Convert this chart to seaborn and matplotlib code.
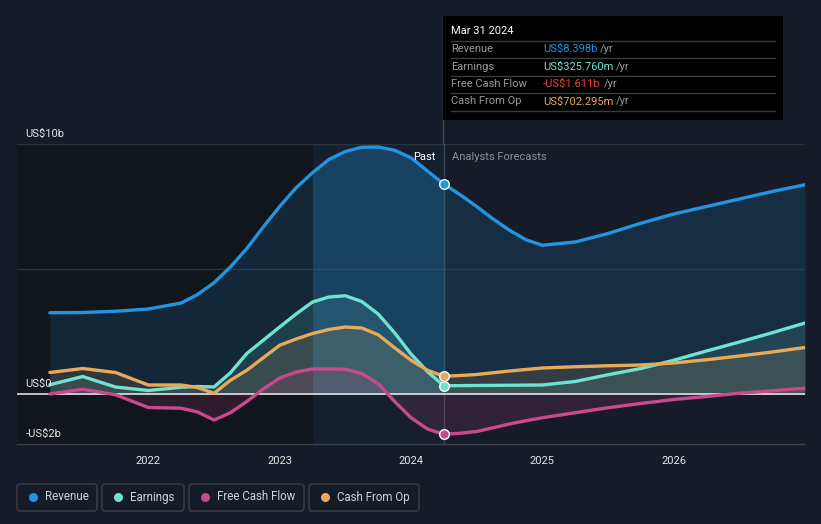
import numpy as np
import pandas as pd
import matplotlib
matplotlib.use("Agg")
import matplotlib.pyplot as plt
import seaborn as sns
from matplotlib.patches import FancyBboxPatch, Rectangle
from matplotlib.transforms import IdentityTransform
from matplotlib.lines import Line2D

# ---------------- data (US$ billions) ----------------
dates = [2021.25, 2021.5, 2021.75, 2022.0, 2022.25, 2022.375, 2022.5, 2022.625,
         2022.75, 2022.875, 2023.0, 2023.125, 2023.25, 2023.375, 2023.5, 2023.625,
         2023.75, 2023.875, 2024.0, 2024.125, 2024.25, 2024.375, 2024.5, 2024.625,
         2024.75, 2024.875, 2025.0, 2025.25, 2025.5, 2025.75, 2026.0, 2026.25,
         2026.5, 2026.75, 2027.0]
revenue = [3.25, 3.26, 3.31, 3.40, 3.64, 3.98, 4.45, 5.08,
           5.82, 6.68, 7.50, 8.25, 8.85, 9.38, 9.70, 9.87,
           9.88, 9.75, 9.45, 8.92, 8.40, 7.97, 7.50, 7.00,
           6.55, 6.17, 5.95, 6.08, 6.42, 6.83, 7.20, 7.50,
           7.80, 8.10, 8.37]
earnings = [0.37, 0.70, 0.28, 0.14, 0.27, 0.30, 0.28, 0.85,
            1.62, 2.15, 2.68, 3.20, 3.68, 3.88, 3.93, 3.70,
            3.20, 2.45, 1.60, 0.90, 0.33, 0.335, 0.34, 0.345,
            0.35, 0.355, 0.36, 0.50, 0.77, 1.02, 1.35, 1.72,
            2.08, 2.45, 2.84]
fcf = [0.00, 0.19, -0.03, -0.54, -0.57, -0.72, -1.04, -0.75,
       -0.30, 0.20, 0.64, 0.88, 1.00, 1.00, 0.99, 0.82,
       0.42, -0.30, -0.95, -1.40, -1.61, -1.57, -1.50, -1.35,
       -1.20, -1.07, -0.95, -0.75, -0.55, -0.38, -0.22, -0.10,
       0.03, 0.13, 0.23]
cfo = [0.86, 1.02, 0.86, 0.36, 0.36, 0.26, 0.03, 0.55,
       0.95, 1.45, 1.95, 2.20, 2.42, 2.58, 2.68, 2.64,
       2.37, 1.85, 1.35, 0.95, 0.71, 0.74, 0.78, 0.85,
       0.92, 0.98, 1.04, 1.09, 1.13, 1.16, 1.24, 1.37,
       1.52, 1.68, 1.86]
series_names = ["Revenue", "Earnings", "Free Cash Flow", "Cash From Op"]
year_ticks = [2022, 2023, 2024, 2025, 2026]
now_date = 2024.25
hl_start = 2023.25
tooltip_title = "Mar 31 2024"
tooltip_values = ["US$8.398b", "US$325.760m", "-US$1.611b", "US$702.295m"]

# ---------------- style ----------------
BG = "#161c27"
PAST_BG = "#11151c"
C_REV = "#2394df"
C_EARN = "#6ee3cf"
C_FCF = "#c94a8c"
C_CFO = "#e8a95a"
colors = [C_REV, C_EARN, C_FCF, C_CFO]

sns.set_style("dark")
plt.rcParams["font.family"] = ["Roboto", "DejaVu Sans"]

W, H = 821, 524
fig = plt.figure(figsize=(W / 100, H / 100), dpi=100, facecolor=BG)
# axes: x 17..805 px, y 144..444 px (from top)
ax = fig.add_axes([17 / W, 1 - 444 / H, (805 - 17) / W, (444 - 144) / H])
ax.set_facecolor(BG)
ax.set_xlim(2021.0, 2027.0)
ax.set_ylim(-2, 10)

df = pd.DataFrame({"date": dates, "Revenue": revenue, "Earnings": earnings,
                   "Free Cash Flow": fcf, "Cash From Op": cfo})
long = df.melt(id_vars="date", var_name="series", value_name="value")

# background regions
ax.axvspan(2021.0, hl_start, color=PAST_BG, zorder=0, lw=0)
ax.axvspan(hl_start, now_date, color="#16202d", zorder=0, lw=0)

# grid
for yv in [5, 10]:
    ax.axhline(yv, color="#2c323c", lw=1, zorder=1)

# fills
d = np.array(dates)
ax.fill_between(d, revenue, 0, color=C_REV, alpha=0.15, lw=0, zorder=2)
mask = (d >= hl_start) & (d <= now_date)
ax.fill_between(d, revenue, 0, where=mask, color=C_REV, alpha=0.17, lw=0, zorder=2)
ax.fill_between(d, earnings, 0, color=C_EARN, alpha=0.13, lw=0, zorder=2)
ax.fill_between(d, cfo, 0, color=C_CFO, alpha=0.13, lw=0, zorder=2)
ax.fill_between(d, fcf, 0, color=C_FCF, alpha=0.15, lw=0, zorder=2)

sns.lineplot(data=long, x="date", y="value", hue="series", hue_order=series_names,
             palette=colors, linewidth=2.4, legend=False, ax=ax, zorder=4,
             estimator=None, sort=True)
for l in ax.lines:
    l.set_solid_joinstyle("round")
    l.set_solid_capstyle("round")

ax.axhline(0, color="#f0f0f0", lw=1.1, zorder=3)

# current markers
i_now = dates.index(now_date)
for vals, c in zip([revenue, earnings, fcf, cfo], colors):
    ax.scatter([now_date], [vals[i_now]], s=48, color=c, edgecolor="white",
               linewidth=1.0, zorder=6)

# vertical now line
ax.axvline(now_date, color="#3a4558", lw=1, zorder=1)
fig.add_artist(Line2D([443 / W, 443 / W], [1 - 144 / H, 1 - 16 / H],
                      color="#3a4558", lw=1, transform=fig.transFigure))

# axes styling
for s in ["top", "right", "left"]:
    ax.spines[s].set_visible(False)
ax.spines["bottom"].set_color("#3b414b")
ax.spines["bottom"].set_linewidth(1)
ax.set_yticks([])
ax.set_xticks(year_ticks)
ax.set_xticklabels([str(y) for y in year_ticks])
ax.tick_params(axis="x", colors="#555b66", length=4, width=1, pad=5,
               labelcolor="#e6e6e6", labelsize=8)
ax.set_xlabel("")
ax.set_ylabel("")
ax.grid(False)

# y labels
ytr = ax.get_yaxis_transform()
for yv, lab in [(10, "US$10b"), (0, "US$0"), (-2, "-US$2b")]:
    ax.text(0.011, yv + 0.22, lab, transform=ytr, color="#e6e6e6", fontsize=8,
            ha="left", va="bottom", zorder=7)

# Past / Analysts Forecasts
ax.text(now_date - 0.06, 9.5, "Past", color="#ffffff", fontsize=8, ha="right", va="center", zorder=7)
ax.text(now_date + 0.06, 9.5, "Analysts Forecasts", color="#8c929b", fontsize=8,
        ha="left", va="center", zorder=7)

# ---------------- tooltip ----------------
IT = IdentityTransform()
def py(y):
    return H - y

fig.add_artist(Rectangle((443, py(120)), 340, 104, transform=IT, facecolor="#000000",
                         edgecolor="none", zorder=10))
fig.text(451, py(31), tooltip_title, transform=IT, color="#ffffff", fontsize=8,
         ha="left", va="center", zorder=11)
for ysep in [41, 58, 76, 93, 111]:
    fig.add_artist(Line2D([451, 775], [py(ysep), py(ysep)], transform=IT,
                          color="#3c3c3c", lw=1, zorder=11))
val_colors = [C_REV, C_EARN, "#e8413c", C_CFO]
fig.canvas.draw()
renderer = fig.canvas.get_renderer()
for i, (name, val, vc) in enumerate(zip(series_names, tooltip_values, val_colors)):
    yy = py(49 + i * 17.5)
    fig.text(451, yy, name, transform=IT, color="#9a9a9a", fontsize=8,
             ha="left", va="center", zorder=11)
    t = fig.text(543, yy, val, transform=IT, color=vc, fontsize=8,
                 ha="left", va="center", zorder=11)
    bb = t.get_window_extent(renderer)
    fig.text(bb.x1 + 3, yy, "/yr", transform=IT, color="#9a9a9a", fontsize=8,
             ha="left", va="center", zorder=11)

# ---------------- legend ----------------
boxes = [(17, 97), (102, 184), (189, 304), (309, 419)]
for (x0, x1), name, c in zip(boxes, series_names, colors):
    fig.add_artist(FancyBboxPatch((x0, py(511)), x1 - x0, 27, transform=IT,
                                  boxstyle="round,pad=0,rounding_size=3",
                                  facecolor=BG, edgecolor="#3a3f48", lw=1, zorder=10))
    fig.add_artist(Line2D([x0 + 15.5], [py(497)], transform=IT, marker="o",
                          markersize=6.5, color=c, markeredgewidth=0, zorder=11))
    fig.text(x0 + 28, py(497), name, transform=IT, color="#cfd3d8", fontsize=8.3,
             ha="left", va="center", zorder=11)

fig.savefig("out.png", dpi=100, facecolor=BG)
